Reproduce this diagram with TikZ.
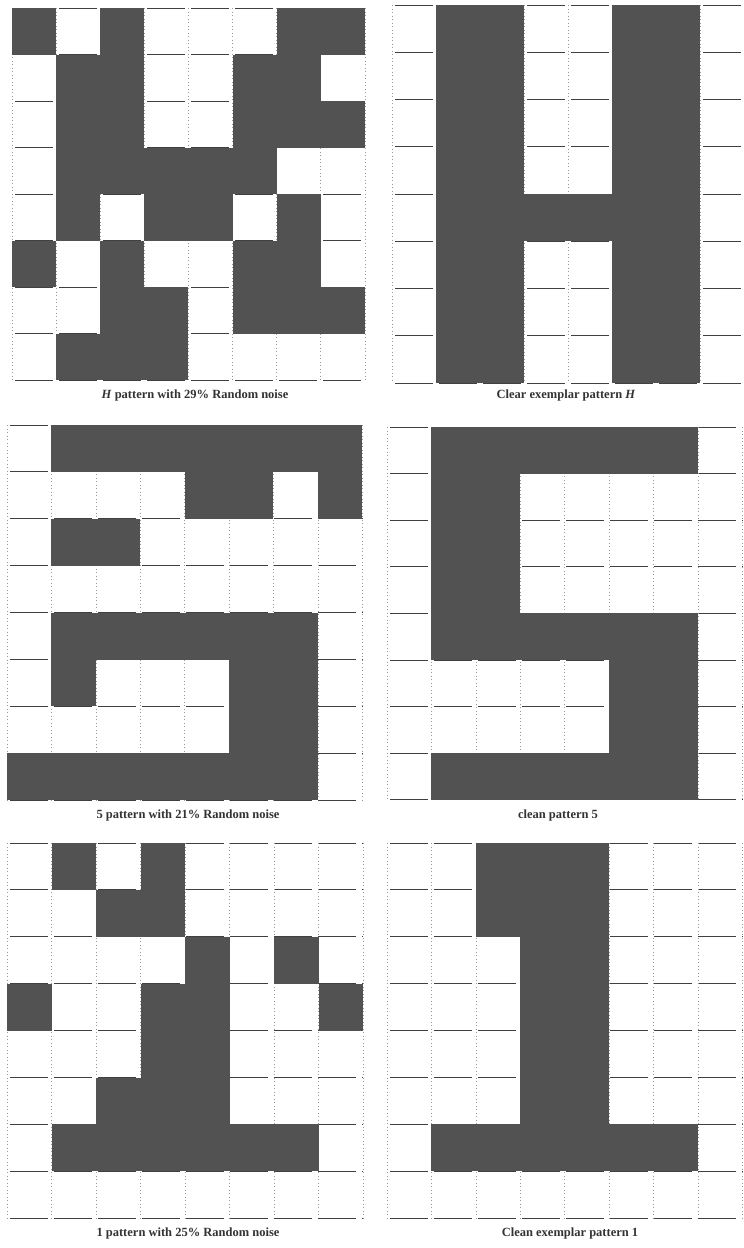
\documentclass[tikz,border=0pt]{standalone}
\usepackage{fontspec}
\setmainfont{Liberation Serif}
\definecolor{cellfill}{RGB}{82,82,82}
\tikzset{
  hline/.style={line width=0.9pt, black!75, dash pattern=on 38pt off 6pt, dash phase=-3pt},
  vline/.style={line width=0.5pt, black!40, dash pattern=on 1pt off 2.5pt},
  caption/.style={font=\bfseries\fontsize{12.5}{14}\selectfont, text=black!80, inner sep=0pt},
}
\newcommand\mygrid[5]{%
  \foreach \i in {0,...,8} {
    \draw[hline] (#1,{#2+\i*#4}) -- ++({8*#3},0);
    \draw[vline] ({#1+\i*#3},#2) -- ++(0,{8*#4});
  }
  \foreach \rr [count=\r from 0] in {#5} {
    \foreach \v [count=\c from 0] in \rr {
      \ifnum\v=1 \fill[cellfill] ({#1+\c*#3},{#2+\r*#4}) rectangle ++(#3,#4); \fi
    }
  }
}
\begin{document}
\begin{tikzpicture}[x=1pt,y=-1pt]
\useasboundingbox[fill=white] (0,0) rectangle (744,1248);
% top-left: noisy H
\mygrid{12}{8}{44.1}{46.5}{{1,0,1,0,0,0,1,1},{0,1,1,0,0,1,1,0},{0,1,1,0,0,1,1,1},{0,1,1,1,1,1,0,0},{0,1,0,1,1,0,1,0},{1,0,1,0,0,1,1,0},{0,0,1,1,0,1,1,1},{0,1,1,1,0,0,0,0}}
% top-right: clean H
\mygrid{392}{5}{44}{47.25}{{0,1,1,0,0,1,1,0},{0,1,1,0,0,1,1,0},{0,1,1,0,0,1,1,0},{0,1,1,0,0,1,1,0},{0,1,1,1,1,1,1,0},{0,1,1,0,0,1,1,0},{0,1,1,0,0,1,1,0},{0,1,1,0,0,1,1,0}}
% middle-left: noisy 5
\mygrid{7}{425}{44.4}{46.9}{{0,1,1,1,1,1,1,1},{0,0,0,0,1,1,0,1},{0,1,1,0,0,0,0,0},{0,0,0,0,0,0,0,0},{0,1,1,1,1,1,1,0},{0,1,0,0,0,1,1,0},{0,0,0,0,0,1,1,0},{1,1,1,1,1,1,1,0}}
% middle-right: clean 5
\mygrid{387}{427}{44.4}{46.6}{{0,1,1,1,1,1,1,0},{0,1,1,0,0,0,0,0},{0,1,1,0,0,0,0,0},{0,1,1,0,0,0,0,0},{0,1,1,1,1,1,1,0},{0,0,0,0,0,1,1,0},{0,0,0,0,0,1,1,0},{0,1,1,1,1,1,1,0}}
% bottom-left: noisy 1
\mygrid{7}{843}{44.5}{46.9}{{0,1,0,1,0,0,0,0},{0,0,1,1,0,0,0,0},{0,0,0,0,1,0,1,0},{1,0,0,1,1,0,0,1},{0,0,0,1,1,0,0,0},{0,0,1,1,1,0,0,0},{0,1,1,1,1,1,1,0},{0,0,0,0,0,0,0,0}}
% bottom-right: clean 1
\mygrid{387}{843}{44.4}{46.9}{{0,0,1,1,1,0,0,0},{0,0,1,1,1,0,0,0},{0,0,0,1,1,0,0,0},{0,0,0,1,1,0,0,0},{0,0,0,1,1,0,0,0},{0,0,0,1,1,0,0,0},{0,1,1,1,1,1,1,0},{0,0,0,0,0,0,0,0}}
% captions
\node[caption] (c1) at (195,395) {\textit{H} pattern with 29\% Random noise};
\node[caption] (c2) at (566,395) {Clear exemplar pattern \textit{H}};
\node[caption] (c3) at (188,815) {5 pattern with 21\% Random noise};
\node[caption] (c4) at (558,815) {clean pattern 5};
\node[caption] (c5) at (188,1233) {1 pattern with 25\% Random noise};
\node[caption] (c6) at (570,1233) {Clean exemplar pattern 1};
\end{tikzpicture}
\end{document}
